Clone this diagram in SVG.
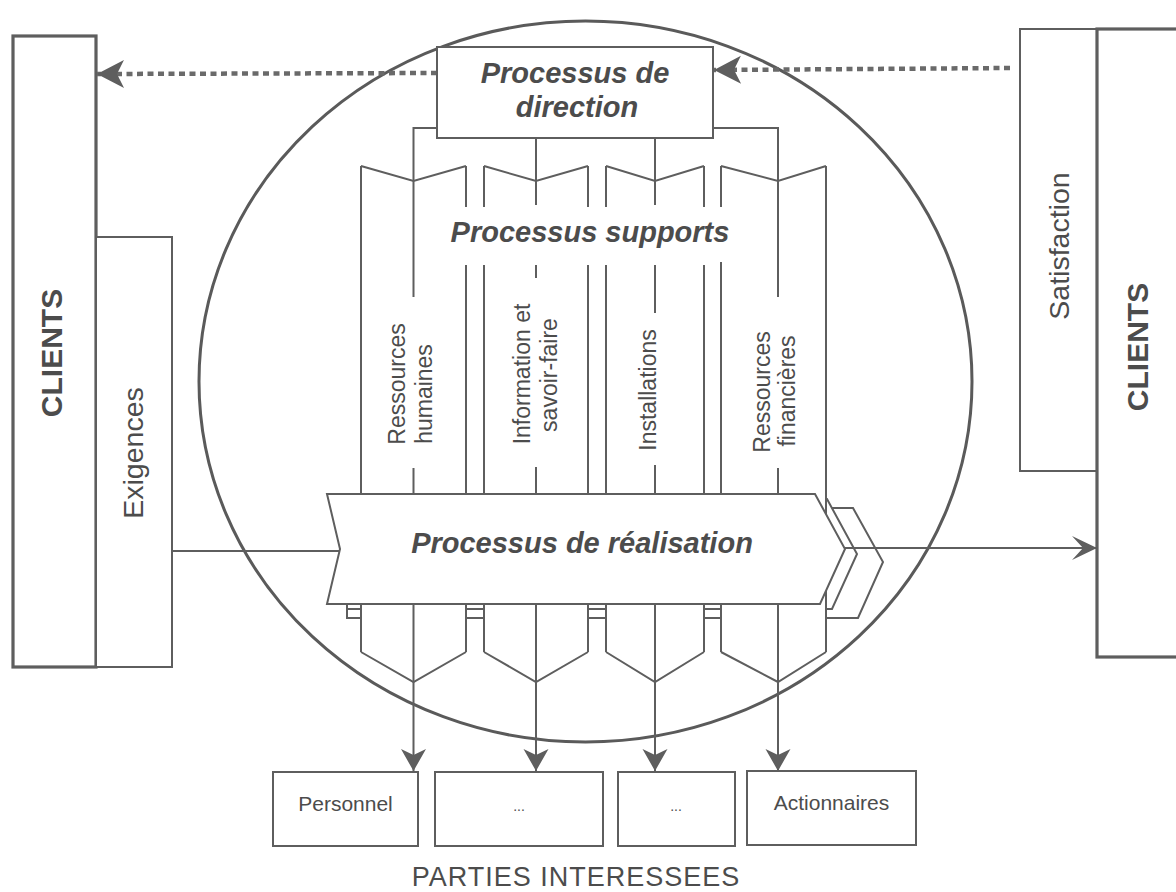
<svg xmlns="http://www.w3.org/2000/svg" width="1176" height="892" viewBox="0 0 1176 892">
<style>
.ln{stroke:#5e5e5e;stroke-width:2;fill:none}
.box{stroke:#5e5e5e;stroke-width:2;fill:#fff}
.thick{stroke:#5e5e5e;stroke-width:3.2;fill:#fff}
.wf{fill:#fff;stroke:none}
.dot{stroke:#6a6a6a;stroke-width:4.5;stroke-dasharray:6 4.5;fill:none}
.t{font-family:"Liberation Sans",Arial,sans-serif;fill:#4c4c4c}
.bi{font-family:"Liberation Sans",Arial,sans-serif;font-weight:bold;font-style:italic;font-size:29px;fill:#4c4c4c;text-anchor:middle}
.cl{font-weight:bold;font-size:30px;text-anchor:middle}
.side{font-size:28.5px;text-anchor:middle}
.col{font-size:23px;text-anchor:middle}
.bot{font-size:21px;text-anchor:middle}
</style>
<defs>
<marker id="ahDot" markerUnits="userSpaceOnUse" markerWidth="32" markerHeight="32" viewBox="-29 -16 32 32" refX="0" refY="0" orient="auto">
<path d="M0,0 L-27,-14 L-20,0 L-27,14 Z" fill="#5e5e5e"/>
</marker>
<marker id="ahOut" markerUnits="userSpaceOnUse" markerWidth="30" markerHeight="30" viewBox="-28 -15 30 30" refX="0" refY="0" orient="auto">
<path d="M0,0 L-25,-12 L-14,0 L-25,12 Z" fill="#5e5e5e"/>
</marker>
<marker id="ahDown" markerUnits="userSpaceOnUse" markerWidth="30" markerHeight="30" viewBox="-25 -15 28 30" refX="0" refY="0" orient="auto">
<path d="M0,0 L-22,-12.5 L-16,0 L-22,12.5 Z" fill="#5e5e5e"/>
</marker>
</defs>
<rect width="1176" height="892" fill="#fff"/>

<g id="circle">
<ellipse cx="585.5" cy="381.5" rx="386.5" ry="360.5" fill="none" stroke="#5a5a5a" stroke-width="3"/>
</g>

<g id="clients-left">
<rect x="13" y="36" width="83" height="631" class="thick"/>
<text class="t cl" transform="translate(62,353) rotate(-90)">CLIENTS</text>
</g>
<g id="exigences">
<rect x="96" y="237" width="76" height="430" class="box"/>
<text class="t side" transform="translate(143,453) rotate(-90)">Exigences</text>
</g>
<g id="satisfaction">
<rect x="1020" y="29" width="77" height="442" class="box"/>
<text class="t side" transform="translate(1069,246) rotate(-90)">Satisfaction</text>
</g>
<g id="clients-right">
<rect x="1097" y="29" width="90" height="628" class="thick"/>
<text class="t cl" transform="translate(1148,347) rotate(-90)">CLIENTS</text>
</g>

<g id="realisation-shadow">
<polygon points="347,508 853,508 883,562 858,618 347,618" class="box"/>
<polygon points="347,499 827,499 857,554 832,609 347,609" class="box"/>
</g>

<g id="support-rh">
<polygon points="361,166 413.5,181 466,166 466,652 413.5,682 361,652" class="wf"/>
<polyline points="361,166 413.5,181 466,166" class="ln"/>
<polyline points="361,652 413.5,682 466,652" class="ln"/>
<line x1="361" y1="166" x2="361" y2="652" class="ln"/>
<line x1="466" y1="166" x2="466" y2="207" class="ln"/>
<line x1="466" y1="265" x2="466" y2="652" class="ln"/>
<text class="t col" transform="translate(405,384) rotate(-90)">Ressources</text>
<text class="t col" transform="translate(432,394) rotate(-90)">humaines</text>
</g>
<g id="support-info">
<polygon points="484,166 536,181 588,166 588,652 536,682 484,652" class="wf"/>
<polyline points="484,166 536,181 588,166" class="ln"/>
<polyline points="484,652 536,682 588,652" class="ln"/>
<line x1="484" y1="166" x2="484" y2="207" class="ln"/>
<line x1="484" y1="265" x2="484" y2="652" class="ln"/>
<line x1="588" y1="166" x2="588" y2="207" class="ln"/>
<line x1="588" y1="265" x2="588" y2="652" class="ln"/>
<text class="t col" transform="translate(530,374) rotate(-90)">Information et</text>
<text class="t col" transform="translate(557,375) rotate(-90)">savoir-faire</text>
</g>
<g id="support-install">
<polygon points="606,166 655,181 704,166 704,652 655,682 606,652" class="wf"/>
<polyline points="606,166 655,181 704,166" class="ln"/>
<polyline points="606,652 655,682 704,652" class="ln"/>
<line x1="606" y1="166" x2="606" y2="207" class="ln"/>
<line x1="606" y1="265" x2="606" y2="652" class="ln"/>
<line x1="704" y1="166" x2="704" y2="207" class="ln"/>
<line x1="704" y1="265" x2="704" y2="652" class="ln"/>
<text class="t col" transform="translate(656,390) rotate(-90)">Installations</text>
</g>
<g id="support-fin">
<polygon points="721,166 778,181 826,166 826,652 778,682 721,652" class="wf"/>
<polyline points="721,166 778,181 826,166" class="ln"/>
<polyline points="721,652 778,682 826,652" class="ln"/>
<line x1="721" y1="166" x2="721" y2="207" class="ln"/>
<line x1="721" y1="262" x2="721" y2="652" class="ln"/>
<line x1="826" y1="166" x2="826" y2="652" class="ln"/>
<text class="t col" transform="translate(770,392) rotate(-90)">Ressources</text>
<text class="t col" transform="translate(795,391) rotate(-90)">financières</text>
</g>
<g id="support-title">
<text class="bi" x="590" y="242">Processus supports</text>
</g>

<g id="connectors">
<line x1="437" y1="73" x2="97" y2="74" class="dot" marker-end="url(#ahDot)"/>
<line x1="1010" y1="68" x2="714" y2="70" class="dot" marker-end="url(#ahDot)"/>
<polyline points="437,128 413.5,128 413.5,297" class="ln"/>
<polyline points="713,128 778,128 778,297" class="ln"/>
<line x1="536" y1="138" x2="536" y2="205" class="ln"/>
<line x1="536" y1="265" x2="536" y2="278" class="ln"/>
<line x1="655" y1="138" x2="655" y2="205" class="ln"/>
<line x1="655" y1="265" x2="655" y2="313" class="ln"/>
<line x1="413.5" y1="468" x2="413.5" y2="771" class="ln" marker-end="url(#ahDown)"/>
<line x1="536" y1="467" x2="536" y2="771" class="ln" marker-end="url(#ahDown)"/>
<line x1="655" y1="465" x2="655" y2="771" class="ln" marker-end="url(#ahDown)"/>
<line x1="778" y1="468" x2="778" y2="771" class="ln" marker-end="url(#ahDown)"/>
<line x1="172" y1="551" x2="340" y2="551" class="ln"/>
<line x1="845" y1="548" x2="1097" y2="548" class="ln" marker-end="url(#ahOut)"/>
</g>

<g id="realisation">
<polygon points="327,494 815,494 845,549 820,604 327,604 340,549" class="box"/>
<text class="bi" x="582" y="553">Processus de réalisation</text>
</g>

<g id="direction">
<rect x="437" y="47" width="276" height="91" class="box"/>
<text class="bi" x="575" y="83">Processus de</text>
<text class="bi" x="577" y="117">direction</text>
</g>

<g id="pi-personnel">
<rect x="273" y="772" width="145" height="74" class="box"/>
<text class="t bot" x="345.5" y="811">Personnel</text>
</g>
<g id="pi-2">
<rect x="435" y="772" width="168" height="74" class="box"/>
<text class="t" x="519" y="811" font-size="14" text-anchor="middle" fill="#9a9a9a">...</text>
</g>
<g id="pi-3">
<rect x="618" y="772" width="117" height="74" class="box"/>
<text class="t" x="676" y="811" font-size="14" text-anchor="middle" fill="#9a9a9a">...</text>
</g>
<g id="pi-actionnaires">
<rect x="747" y="771" width="169" height="74" class="box"/>
<text class="t bot" x="831.5" y="810">Actionnaires</text>
</g>
<g id="parties-label">
<text class="t" x="576" y="886" font-size="27" letter-spacing="1" text-anchor="middle">PARTIES INTERESSEES</text>
</g>
</svg>
